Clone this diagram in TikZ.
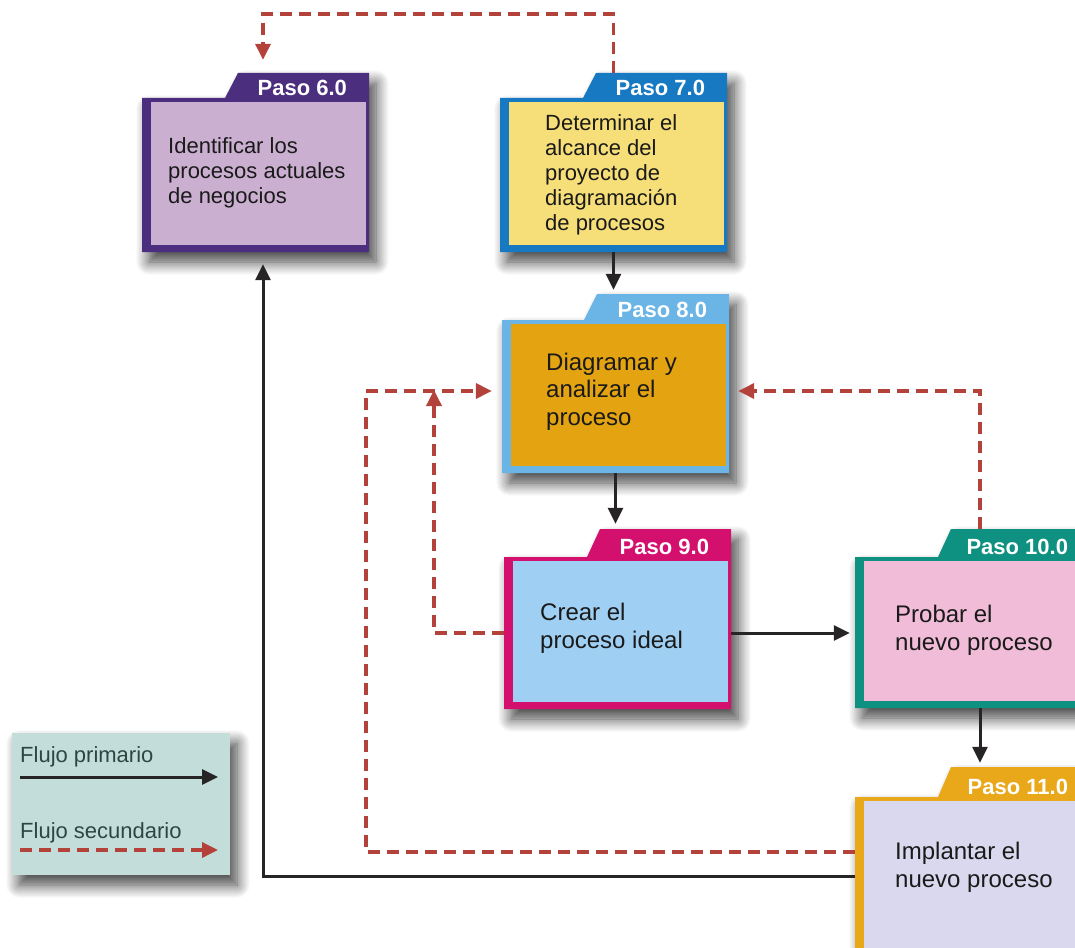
\documentclass[tikz,border=0pt]{standalone}
\usepackage{fontspec}
\setmainfont{Liberation Sans}
\usetikzlibrary{arrows.meta,shadows.blur,fit,calc}

\definecolor{primcol}{HTML}{262424}
\definecolor{seccol}{HTML}{B3423A}
\definecolor{textcol}{HTML}{1A1A1A}
\definecolor{legfill}{HTML}{C3DEDA}
\definecolor{legtext}{HTML}{2E4640}
\definecolor{frameA}{HTML}{4B2F7E}\definecolor{fillA}{HTML}{CBAFD0}
\definecolor{frameB}{HTML}{1779C1}\definecolor{fillB}{HTML}{F6DF78}
\definecolor{frameC}{HTML}{6BB5E6}\definecolor{fillC}{HTML}{E4A411}
\definecolor{frameD}{HTML}{D4106F}\definecolor{fillD}{HTML}{9FCFF2}
\definecolor{frameE}{HTML}{0E9180}\definecolor{fillE}{HTML}{F1BCD7}
\definecolor{frameF}{HTML}{E9A81A}\definecolor{fillF}{HTML}{D9D8EE}

\tikzset{
  softshadow/.style={blur shadow={shadow xshift=7pt,shadow yshift=-10pt,
      shadow blur radius=13pt,shadow blur steps=12,shadow opacity=75}},
  prim/.style={draw=primcol,line width=3pt,
      -{Triangle[length=16pt,width=15pt]}},
  sec/.style={draw=seccol,line width=3.5pt,dash pattern=on 12pt off 7pt,
      -{Triangle[length=16pt,width=15pt]}},
  tablabel/.style={anchor=base east,inner sep=0pt,text=white,
      font=\bfseries\fontsize{22}{22}\selectfont},
  % multi-line texts are placed by the baseline of their last line
  bodytext/.style={anchor=base west,align=left,inner sep=0pt,text=textcol,
      font=\fontsize{22}{25}\selectfont},
  bigtext/.style={bodytext,font=\fontsize{24}{27.5}\selectfont},
  legtxt/.style={anchor=base west,inner sep=0pt,text=legtext,
      font=\fontsize{22}{25}\selectfont},
}

% folder-shaped step box:
% #1 id, #2 left, #3 body top, #4 right, #5 bottom, #6 tab top,
% #7 foot of the tab slope, #8 frame colour, #9 fill colour
\newcommand\folderbox[9]{%
  \path[softshadow,fill=#8]
    (#2,#5) -- (#2,#3) -- (#7,#3) -- (#7+13,#6) -- (#4,#6) -- (#4,#5) -- cycle;
  \fill[#9] (#2+9,#3+4) rectangle (#4-3,#5-7);
  \node[fit={(#2,#3) (#4,#5)},inner sep=0pt] (b#1) {};
  \node[fit={(#7,#6) (#4,#3)},inner sep=0pt] (t#1) {};
  \node[tablabel] (p#1) at ($(t#1.south east)+(-22,-3)$) {Paso #1.0};
}

\begin{document}
\begin{tikzpicture}[x=1pt,y=-1pt]
\useasboundingbox (0,0) rectangle (1075,947);

% step boxes
\folderbox{6}{142}{98}{369}{252}{73}{225}{frameA}{fillA}
\folderbox{7}{500}{98}{727}{252}{73}{583}{frameB}{fillB}
\folderbox{8}{502}{320}{729}{473}{294}{584}{frameC}{fillC}
\folderbox{9}{504}{557}{731}{709}{529}{587}{frameD}{fillD}
\folderbox{10}{855}{557}{1090}{708}{529}{938}{frameE}{fillE}
\folderbox{11}{855}{797}{1090}{965}{767}{938}{frameF}{fillF}

\node[bodytext] (x6) at (168,203) {Identificar los\\procesos actuales\\de negocios};
\node[bodytext] (x7) at (545,230) {Determinar el\\alcance del\\proyecto de\\diagramación\\de procesos};
\node[bigtext] (x8) at (546,425) {Diagramar y\\analizar el\\proceso};
\node[bigtext] (x9) at (540,648) {Crear el\\proceso ideal};
\node[bigtext] (x10t) at (895,650) {Probar el\\nuevo proceso};
\node[bigtext] (x11) at (895,887) {Implantar el\\nuevo proceso};

% legend
\node[fit={(12,733) (230,875)},inner sep=0pt,fill=legfill,softshadow] (leg) {};
\node[legtxt] (lp) at (20,762) {Flujo primario};
\node[legtxt] (ls) at (20,838) {Flujo secundario};
\coordinate (lpa) at (20,777); \coordinate (lpb) at (218,777);
\coordinate (lsa) at (20,850); \coordinate (lsb) at (218,850);
\draw[prim] (lpa) -- (lpb);
\draw[sec] (lsa) -- (lsb);

% routing levels
\coordinate (c6) at (263,0);
\coordinate (c10) at (980,0);
\coordinate (cl) at (366,0);
\coordinate (c9) at (434,0);
\coordinate (ytop) at (0,14);
\coordinate (y8) at (0,391);
\coordinate (ysec) at (0,852);
\coordinate (yprim) at (0,876);

% primary flow
\draw[prim,shorten >=4pt] (b7.south) -- (b7.south |- t8.north);
\draw[prim,shorten >=5pt] (b8.south) -- (b8.south |- t9.north);
\draw[prim,shorten >=5pt] (b9.east) -- (b10.west |- b9.east);
\draw[prim,shorten >=4pt] (c10 |- b10.south) -- (c10 |- t11.north);
\draw[prim,shorten >=12pt] (b11.west |- yprim) -| (c6 |- b6.south);

% secondary flow
\draw[sec,shorten >=13pt] (b7.center |- t7.north) -- (b7.center |- ytop) -| (c6 |- t6.north);
\draw[sec,shorten >=10pt] (b11.west |- ysec) -| (cl |- y8) -- (b8.west |- y8);
\draw[sec,shorten >=-1pt] (b9.west) -| (c9 |- y8);
\draw[sec,shorten >=9pt] (c10 |- t10.north) |- (b8.east |- y8);
\end{tikzpicture}
\end{document}
